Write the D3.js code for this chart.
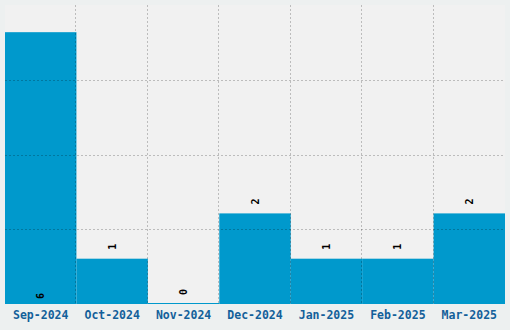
<!DOCTYPE html>
<html>
<head>
<meta charset="utf-8">
<script src="https://cdn.jsdelivr.net/npm/d3@7"></script>
<style>
  html, body { margin: 0; padding: 0; background: #edf0f0; }
  svg { display: block; }
</style>
</head>
<body>
<div id="chart"></div>
<script>
// chart data
const months = ["Sep-2024", "Oct-2024", "Nov-2024", "Dec-2024", "Jan-2025", "Feb-2025", "Mar-2025"];
const counts = [6, 1, 0, 2, 1, 1, 2];

const width = 510, height = 330;
const margin = {top: 5, right: 5, bottom: 26, left: 5};
const innerW = width - margin.left - margin.right;
const innerH = height - margin.top - margin.bottom;

const maxVal = d3.max(counts);

const x = d3.scaleBand()
    .domain(months)
    .range([0, innerW])
    .padding(0);

const y = d3.scaleLinear()
    .domain([0, maxVal * 1.1])
    .range([innerH, 0]);

const svg = d3.select("#chart").append("svg")
    .attr("width", width)
    .attr("height", height)
    .style("background", "#edf0f0");

const g = svg.append("g")
    .attr("transform", `translate(${margin.left},${margin.top})`);

// plot background
g.append("rect")
    .attr("width", innerW)
    .attr("height", innerH)
    .attr("fill", "#f1f1f1");

// bars (zero values still get a 1px sliver)
g.append("g")
  .selectAll("rect")
  .data(counts)
  .join("rect")
    .attr("x", (d, i) => x(months[i]))
    .attr("width", x.bandwidth())
    .attr("y", d => Math.min(y(d), innerH - 1))
    .attr("height", d => Math.max(1, innerH - y(d)))
    .attr("fill", "#0099cc");

// grid lines drawn on top (semi transparent)
const grid = g.append("g")
    .attr("stroke", "rgba(0,0,0,0.22)")
    .attr("stroke-width", 1)
    .attr("stroke-dasharray", "2,2");

const yTicks = d3.range(1, 4).map(k => y.domain()[1] * k / 4);
grid.selectAll("line.h")
  .data(yTicks)
  .join("line")
    .attr("class", "h")
    .attr("x1", 0)
    .attr("x2", innerW)
    .attr("y1", d => Math.round(y(d)) + 0.5)
    .attr("y2", d => Math.round(y(d)) + 0.5);

grid.selectAll("line.v")
  .data(months.slice(1))
  .join("line")
    .attr("class", "v")
    .attr("x1", d => Math.round(x(d)) - 0.5)
    .attr("x2", d => Math.round(x(d)) - 0.5)
    .attr("y1", 0)
    .attr("y2", innerH);

// value labels, rotated
g.append("g")
  .selectAll("text")
  .data(counts)
  .join("text")
    .attr("transform", (d, i) => {
      const cx = x(months[i]) + x.bandwidth() / 2;
      const cy = d === maxVal ? innerH - 8 : y(d) - 12;
      return `translate(${cx},${cy}) rotate(-90)`;
    })
    .attr("text-anchor", "middle")
    .attr("dy", "0.35em")
    .attr("font-family", "DejaVu Sans Mono, monospace")
    .attr("font-weight", "bold")
    .attr("font-size", 10)
    .attr("fill", "#000")
    .text(d => d);

// x axis labels
const xAxis = g.append("g")
    .attr("transform", `translate(0,${innerH})`)
    .call(d3.axisBottom(x).tickSize(0).tickPadding(7));
xAxis.select(".domain").remove();
xAxis.selectAll("text")
    .attr("font-family", "DejaVu Sans Mono, monospace")
    .attr("font-weight", "bold")
    .attr("font-size", 11.5)
    .attr("fill", "#13609a");
</script>
</body>
</html>
